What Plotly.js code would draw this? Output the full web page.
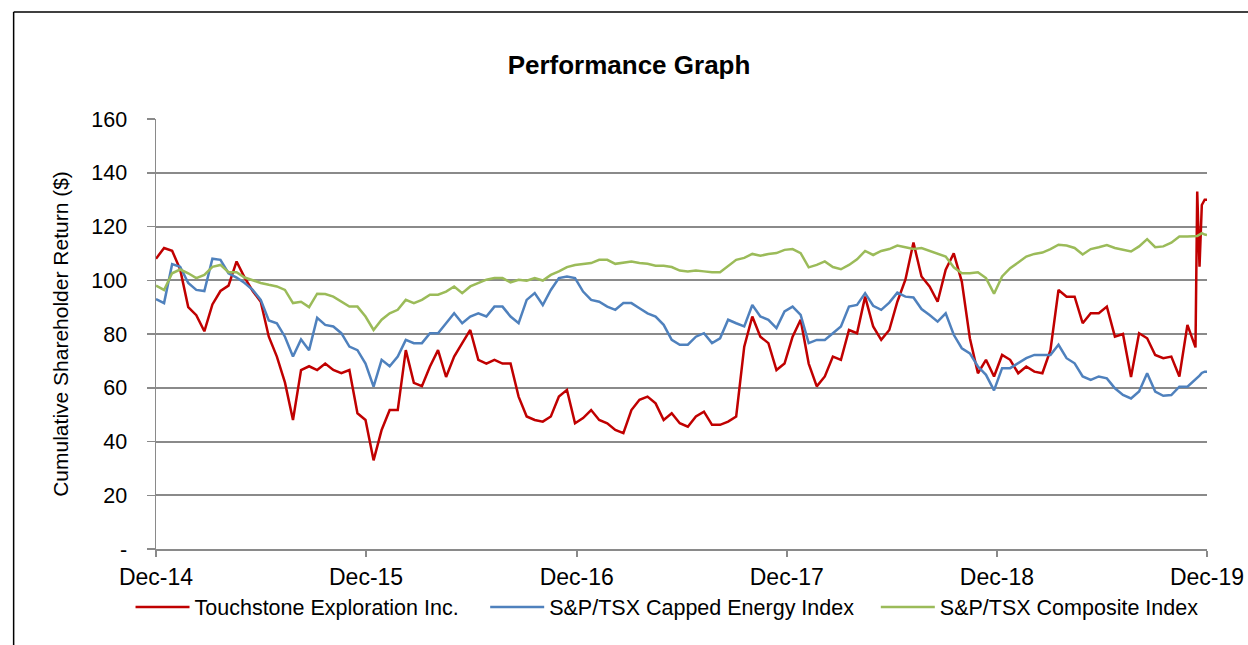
<!DOCTYPE html>
<html>
<head>
<meta charset="utf-8">
<script src="https://cdn.plot.ly/plotly-3.0.1.min.js"></script>
<style>
html,body{margin:0;padding:0;background:#fff;}
#chart{width:1248px;height:645px;}
</style>
</head>
<body>
<div id="chart"></div>
<script>
// Biweekly samples from 2014-12-31 (130 points) plus a denser tail in December 2019
const startDate = '2014-12-31';
const stepDays = 14;
const nRegular = 130;
const tailDates = ['2019-12-14','2019-12-18','2019-12-22','2019-12-27','2019-12-31'];

const seriesNames = ['Touchstone Exploration Inc.', 'S&P/TSX Capped Energy Index', 'S&P/TSX Composite Index'];

const touchstone = [
108,112,111,104,90,87,81,91,96,98,107,101,96,92,79,71.6,62,48,66.6,68,
66.6,69,66.6,65.4,66.6,50.5,48,33,44.3,51.7,51.7,74,61.8,60.6,67.9,74,64,71.6,76.6,81.5,
70.4,69,70.4,69,69,56.7,49.3,48,47.4,49.3,56.7,59.2,46.8,48.7,51.7,48,46.8,44.3,43.1,51.7,
55.5,56.7,54.2,48,50.5,46.8,45.5,49.3,51.1,46.2,46.2,47.4,49.3,75.3,86.5,79,76.6,66.6,69,79,
85.3,69,60.5,64.2,71.6,70.4,81.5,80.3,93.9,82.8,77.8,81.5,92,100.2,114,101.4,97.7,92,103.9,110,
99.5,78.4,65.4,70.4,64.2,72.2,70.4,65.4,67.9,66,65.4,74,96.4,93.9,93.9,84,87.7,87.7,90.2,79,
80,64,80.3,78.4,72.2,71,71.6,64.2,83.4,75,
133,105,128,130,130];

const energyIndex = [
93,91.5,106,105,99,96.4,96,108,107.6,102.6,101,99,96.4,92.7,85,84,79,71.6,78,74,
86,83.4,82.8,80.3,75.3,74,69,60.4,70.4,68,71.6,77.8,76.6,76.6,80.3,80.3,84,87.7,84,86.5,
87.7,86.5,90.2,90.2,86.5,84,92.7,95.2,90.8,96.4,100.8,101.4,100.8,95.8,92.7,92,90.2,89,91.5,91.5,
89.6,87.7,86.5,83.4,77.8,76,76,79,80.3,76.6,78.4,85.3,84,82.8,90.8,86.5,85.3,82.2,88.4,90.2,
87.1,76.6,77.8,77.8,80.3,82.8,90.2,90.8,95.2,90.5,89,91.7,95.4,93.9,93.6,89.3,87.1,84.6,87.7,79.7,
74.7,72.8,67.9,64.8,59,67.3,67.3,69.1,71,72.2,72.2,72.2,76,71,69.1,64.2,62.9,64.2,63.5,59.8,
57.3,56,58.6,65.4,58.6,57,57.3,60.4,60.4,62.9,
63.5,64.5,65.5,66,66];

const compositeIndex = [
98,96.4,102.6,104,102.6,100.8,102,105,105.7,103,103,101,100,99,98.3,97.7,96.4,91.5,92,90,
95,94.9,93.9,92,90.2,90.2,86.5,81.5,85.3,87.7,89,92.7,91.5,92.7,94.6,94.6,95.8,97.7,95.2,97.7,
99,100.2,100.8,100.8,99.2,100.2,99.8,100.8,99.9,102,103.3,104.9,105.7,106.1,106.4,107.6,107.6,106.1,106.6,107,
106.4,106.1,105.4,105.4,104.9,103.6,103.3,103.6,103.3,103,103,105.4,107.6,108.3,109.8,109.1,109.8,110.1,111.3,111.6,
110.1,104.8,105.7,107,104.9,104.1,105.7,107.8,110.9,109.4,110.9,111.6,112.9,112.3,111.6,112,110.9,109.8,108.8,104.8,
102.6,102.6,103,100.8,95,101.4,104.5,106.6,108.8,109.8,110.3,111.6,113.2,112.9,112,109.6,111.6,112.3,113.1,112,
111.3,110.7,112.6,115.3,112.3,112.6,114,116.3,116.3,116.5,
116.5,117,117.5,117,116.8];

const yTickVals = [0,20,40,60,80,100,120,140,160];
const yTickText = ['-','20','40','60','80','100','120','140','160'];
const xTickVals = ['2014-12-31','2015-12-31','2016-12-31','2017-12-31','2018-12-31','2019-12-31'];
const xTickText = ['Dec-14','Dec-15','Dec-16','Dec-17','Dec-18','Dec-19'];

// build date list
const dates = [];
const t0 = Date.parse(startDate + 'T00:00:00Z');
for (let i = 0; i < nRegular; i++) {
  const d = new Date(t0 + i * stepDays * 86400000);
  dates.push(d.toISOString().slice(0,10));
}
tailDates.forEach(d => dates.push(d));

const FONT = '"Liberation Sans", Arial, Helvetica, sans-serif';
const colors = ['#C00000', '#4F81BD', '#9BBB59'];
const values = [touchstone, energyIndex, compositeIndex];
const legendIds = ['legend', 'legend2', 'legend3'];

const traces = values.map((v, k) => ({
  type: 'scatter',
  mode: 'lines',
  x: dates,
  y: v,
  name: seriesNames[k],
  legend: legendIds[k],
  line: {color: colors[k], width: 2.5}
}));

const L = 155.5, R = 40.5, T = 119, B = 96, W = 1248, H = 645;
const pw = W - L - R, ph = H - T - B;
const px2paperX = p => (p - L) / pw;
const px2paperY = p => (H - B - p) / ph;

const legendStarts = [130, 485, 876];
function legendAt(px) {
  return {
    orientation: 'h',
    x: px2paperX(px), xanchor: 'left',
    y: px2paperY(607), yanchor: 'middle',
    font: {family: FONT, size: 21.5, color: '#000'},
    itemwidth: 54,
    bgcolor: 'rgba(0,0,0,0)'
  };
}

const layout = {
  width: W, height: H,
  margin: {l: L, r: R, t: T, b: B, pad: 0},
  paper_bgcolor: '#fff', plot_bgcolor: '#fff',
  font: {family: FONT, color: '#000'},
  title: {
    text: '<b>Performance Graph</b>',
    font: {family: FONT, size: 26, color: '#000'},
    x: 629 / W, xref: 'container', xanchor: 'center',
    y: 1 - 65 / H, yref: 'container', yanchor: 'middle'
  },
  showlegend: true,
  legend: legendAt(legendStarts[0]),
  legend2: legendAt(legendStarts[1]),
  legend3: legendAt(legendStarts[2]),
  xaxis: {
    type: 'date',
    range: ['2014-12-31', '2019-12-31'],
    tickvals: xTickVals,
    ticktext: xTickText,
    tickfont: {family: FONT, size: 23, color: '#000'},
    ticks: 'outside', ticklen: 6, tickwidth: 1.5, tickcolor: '#8a8a8a',
    showgrid: false, zeroline: false,
    showline: true, linecolor: '#8a8a8a', linewidth: 2,
    fixedrange: true
  },
  yaxis: {
    range: [0, 160],
    tickvals: yTickVals,
    ticktext: yTickText,
    tickfont: {family: FONT, size: 21.5, color: '#000'},
    ticks: 'outside', ticklen: 8, tickwidth: 1.5, tickcolor: '#8a8a8a',
    ticklabelstandoff: 15,
    showgrid: true, gridcolor: '#8a8a8a', gridwidth: 2,
    zeroline: false,
    showline: true, linecolor: '#8a8a8a', linewidth: 1.5,
    title: {text: 'Cumulative Shareholder Return ($)', font: {family: FONT, size: 21, color: '#000'}, standoff: 17},
    fixedrange: true
  },
  shapes: [
    {type: 'line', xref: 'paper', yref: 'paper',
     x0: px2paperX(13), x1: px2paperX(1260), y0: px2paperY(12), y1: px2paperY(12),
     line: {color: '#000', width: 1.5}},
    {type: 'line', xref: 'paper', yref: 'paper',
     x0: px2paperX(13), x1: px2paperX(13), y0: px2paperY(12), y1: px2paperY(660),
     line: {color: '#000', width: 1.5}}
  ]
};

Plotly.newPlot('chart', traces, layout, {displayModeBar: false, staticPlot: true});
</script>
</body>
</html>
